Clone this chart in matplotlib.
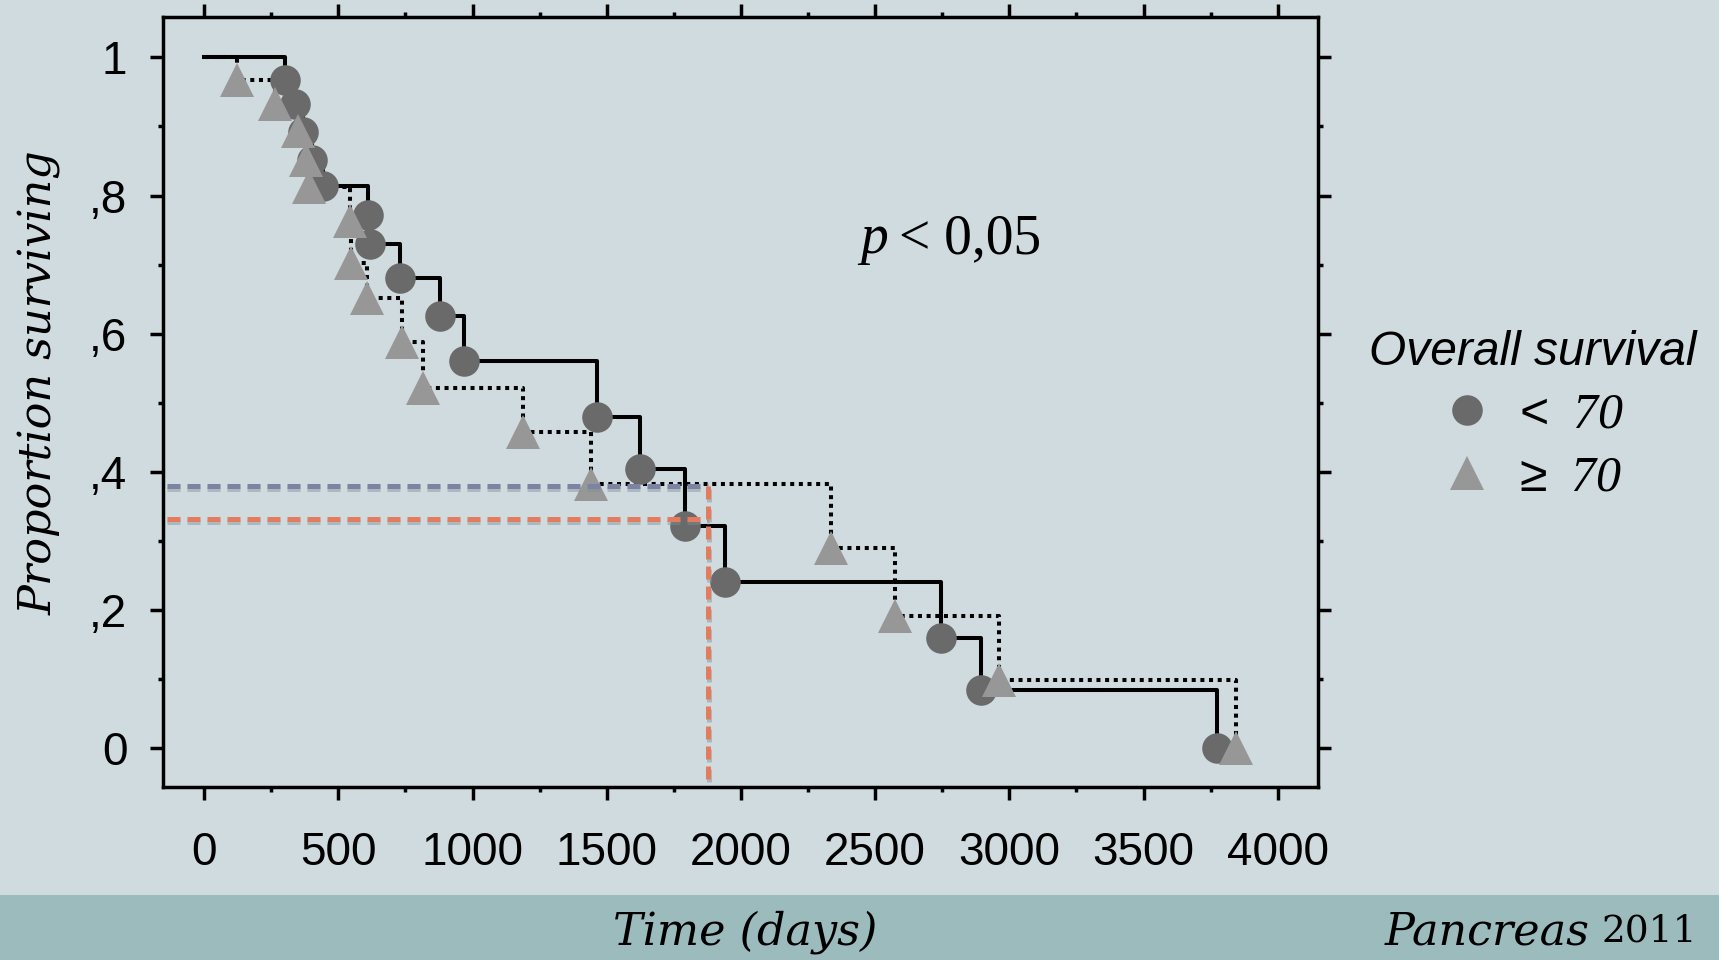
import matplotlib
matplotlib.use("Agg")
import matplotlib.pyplot as plt
import matplotlib.patheffects as pe
from matplotlib.patches import Rectangle
from matplotlib.ticker import MultipleLocator

plt.rcParams['mathtext.fontset'] = 'custom'
plt.rcParams['mathtext.rm'] = 'Liberation Serif:italic'
plt.rcParams['mathtext.sf'] = 'Liberation Sans'

# survival steps (<70)
young_t = [0, 302, 339, 370, 401, 444, 612, 618, 730, 879, 969, 1463, 1624, 1792, 1941, 2746, 2895, 3773]
young_s = [1.0, 0.967, 0.933, 0.892, 0.851, 0.814, 0.772, 0.730, 0.681, 0.626, 0.560, 0.480, 0.404, 0.322, 0.240, 0.160, 0.084, 0.0]
# survival steps (>=70)
old_t = [0, 122, 265, 351, 379, 389, 544, 548, 606, 739, 817, 1187, 1441, 2336, 2574, 2963, 3843]
old_s = [1.0, 0.967, 0.932, 0.894, 0.852, 0.812, 0.763, 0.703, 0.652, 0.588, 0.522, 0.458, 0.383, 0.290, 0.192, 0.099, 0.0]

# median guide lines
guide_start = -140
median_t = 1879
level_old = 0.380
level_young = 0.332
guide_bottom = -0.048

xticks = [0, 500, 1000, 1500, 2000, 2500, 3000, 3500, 4000]
yticks = [0, 0.2, 0.4, 0.6, 0.8, 1.0]
ylabels = ['0', ',2', ',4', ',6', ',8', '1']

bg = '#d0dbdf'
fig = plt.figure(figsize=(17.19, 9.60), dpi=100)
fig.patch.set_facecolor(bg)
fig.patches.append(Rectangle((0, 0), 1, 65.5 / 960, transform=fig.transFigure,
                             facecolor='#9bbbbd', edgecolor='none', zorder=0))

ax = fig.add_axes([0.0950, 0.1799, 0.6716, 0.8021])
ax.set_facecolor(bg)

ax.step(young_t, young_s, where='post', color='black', lw=2.9, zorder=2)
ax.step(old_t, old_s, where='post', color='black', lw=2.9,
        linestyle=(0, (1.0, 1.15)), zorder=2)
ax.plot(young_t[1:], young_s[1:], 'o', ms=22, color='#6a6a6a', mew=0, zorder=3,
        label=r'$\mathsf{<}\;70$')
ax.plot(old_t[1:], old_s[1:], '^', ms=25, color='#979797', mew=0, zorder=4,
        label=r'$\mathsf{\geq}\;70$')

shadow = [pe.SimpleLineShadow(offset=(0.5, -2.5), shadow_color='#7f8f95', alpha=0.45),
          pe.Normal()]
dash = (2.6, 1.4)
ax.plot([guide_start, median_t], [level_old, level_old], color='#7d84a3', lw=3.6,
        dashes=dash, zorder=5, path_effects=shadow)
ax.plot([guide_start, median_t], [level_young, level_young], color='#e47b5c', lw=3.6,
        dashes=dash, zorder=5, path_effects=shadow)
ax.plot([median_t, median_t], [level_old, guide_bottom], color='#e47b5c', lw=3.6,
        dashes=dash, zorder=5, path_effects=shadow)

ax.set_xlim(-152, 4149)
ax.set_ylim(-0.0564, 1.058)
ax.set_xticks(xticks)
ax.set_xticklabels([str(v) for v in xticks])
ax.set_yticks(yticks)
ax.set_yticklabels(ylabels)
ax.xaxis.set_minor_locator(MultipleLocator(250))
ax.yaxis.set_minor_locator(MultipleLocator(0.1))
ax.tick_params(which='both', direction='out', width=2.5, top=True, right=True)
ax.tick_params(which='major', length=9.4)
ax.tick_params(which='minor', length=3.6)
ax.tick_params(axis='x', which='major', pad=22)
ax.tick_params(axis='y', which='major', pad=16.5)
for lab in ax.get_xticklabels() + ax.get_yticklabels():
    lab.set_family('Liberation Sans')
    lab.set_fontsize(33)
for sp in ax.spines.values():
    sp.set_linewidth(2.5)

fig.text(860 / 1719, 1 - 253 / 960, 'p', family='Liberation Serif', style='italic',
         fontsize=40, ha='left', va='baseline')
fig.text(1041 / 1719, 1 - 253 / 960, '< 0,05', family='Liberation Serif',
         fontsize=40, ha='right', va='baseline')

fig.text(40 / 1719, 1 - 383 / 960, 'Proportion surviving', family='DejaVu Serif',
         style='italic', fontsize=32, rotation=90, ha='center', va='center')
fig.text(745 / 1719, 1 - 932 / 960, 'Time (days)', family='DejaVu Serif',
         style='italic', fontsize=32, ha='center', va='center')
fig.text(1590 / 1719, 1 - 932 / 960, 'Pancreas', family='DejaVu Serif',
         style='italic', fontsize=32, ha='right', va='center')
fig.text(1697 / 1719, 1 - 932 / 960, '2011', family='DejaVu Serif',
         fontsize=27, ha='right', va='center')

leg = ax.legend(loc='upper center', bbox_to_anchor=(1533 / 1719, 1 - 305 / 960),
                bbox_transform=fig.transFigure, frameon=False, fontsize=36,
                title='Overall survival', handlelength=1.0, handletextpad=0.35,
                labelspacing=0.3, borderpad=0, title_fontproperties={
                    'family': 'Liberation Sans', 'style': 'italic', 'size': 34.5})

fig.savefig('out.png', dpi=100, facecolor=fig.get_facecolor())
